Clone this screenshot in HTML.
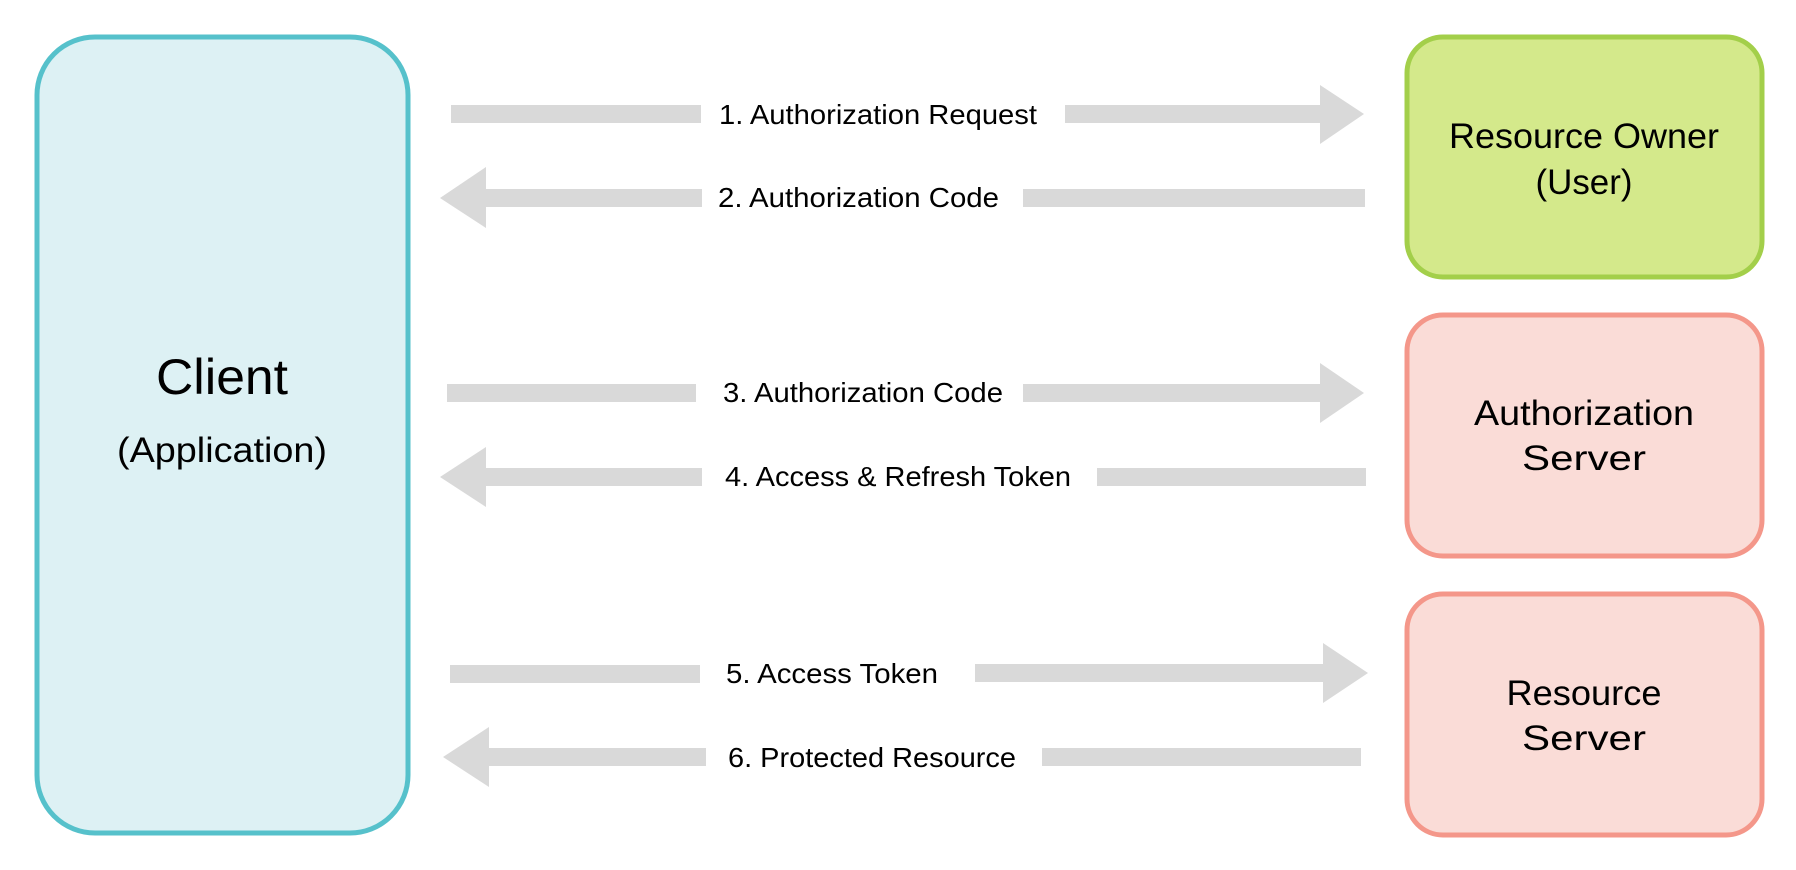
<!DOCTYPE html>
<html><head><meta charset="utf-8"><style>
html,body{margin:0;padding:0;background:#fff;}
svg{display:block;}
text{font-family:"Liberation Sans",sans-serif;fill:#000;}
</style></head><body>
<svg width="1796" height="870" viewBox="0 0 1796 870" xmlns="http://www.w3.org/2000/svg">
<rect x="37" y="37" width="371" height="796" rx="58" fill="#ddf1f4" stroke="#56c1cb" stroke-width="5"/>
<rect x="1407" y="37" width="355" height="240" rx="36" fill="#d4e98b" stroke="#a3cf4a" stroke-width="5"/>
<rect x="1407" y="315" width="355" height="241" rx="36" fill="#fadcd7" stroke="#f4978a" stroke-width="5"/>
<rect x="1407" y="594" width="355" height="241" rx="36" fill="#fadcd7" stroke="#f4978a" stroke-width="5"/>

<text x="222" y="394" font-size="50" text-anchor="middle" textLength="132" lengthAdjust="spacingAndGlyphs">Client</text>
<text x="222" y="462" font-size="35" text-anchor="middle" textLength="210" lengthAdjust="spacingAndGlyphs">(Application)</text>
<text x="1584" y="148" font-size="35" text-anchor="middle" textLength="270" lengthAdjust="spacingAndGlyphs">Resource Owner</text>
<text x="1584" y="194" font-size="35" text-anchor="middle" textLength="97" lengthAdjust="spacingAndGlyphs">(User)</text>
<text x="1584" y="425" font-size="35" text-anchor="middle" textLength="220" lengthAdjust="spacingAndGlyphs">Authorization</text>
<text x="1584" y="470" font-size="35" text-anchor="middle" textLength="124" lengthAdjust="spacingAndGlyphs">Server</text>
<text x="1584" y="705" font-size="35" text-anchor="middle" textLength="155" lengthAdjust="spacingAndGlyphs">Resource</text>
<text x="1584" y="750" font-size="35" text-anchor="middle" textLength="124" lengthAdjust="spacingAndGlyphs">Server</text>

<g fill="#d9d9d9">
<!-- 1 -->
<rect x="451" y="105" width="250" height="18"/>
<rect x="1065" y="105" width="256" height="18"/>
<polygon points="1320,85 1364,114 1320,144"/>
<!-- 2 -->
<polygon points="486,167 440,198 486,228"/>
<rect x="485" y="189" width="217" height="18"/>
<rect x="1023" y="189" width="342" height="18"/>
<!-- 3 -->
<rect x="447" y="384" width="249" height="18"/>
<rect x="1023" y="384" width="298" height="18"/>
<polygon points="1320,363 1364,393 1320,423"/>
<!-- 4 -->
<polygon points="486,447 440,477 486,507"/>
<rect x="485" y="468" width="217" height="18"/>
<rect x="1097" y="468" width="269" height="18"/>
<!-- 5 -->
<rect x="450" y="665" width="250" height="18"/>
<rect x="975" y="664" width="349" height="18"/>
<polygon points="1323,643 1368,673 1323,703"/>
<!-- 6 -->
<polygon points="489,727 443,757 489,787"/>
<rect x="488" y="748" width="218" height="18"/>
<rect x="1042" y="748" width="319" height="18"/>
</g>

<text x="719" y="124" font-size="28" textLength="318" lengthAdjust="spacingAndGlyphs">1. Authorization Request</text>
<text x="718" y="207" font-size="28" textLength="281" lengthAdjust="spacingAndGlyphs">2. Authorization Code</text>
<text x="723" y="402" font-size="28" textLength="280" lengthAdjust="spacingAndGlyphs">3. Authorization Code</text>
<text x="725" y="486" font-size="28" textLength="346" lengthAdjust="spacingAndGlyphs">4. Access &amp; Refresh Token</text>
<text x="726" y="683" font-size="28" textLength="212" lengthAdjust="spacingAndGlyphs">5. Access Token</text>
<text x="728" y="767" font-size="28" textLength="288" lengthAdjust="spacingAndGlyphs">6. Protected Resource</text>
</svg>
</body></html>
